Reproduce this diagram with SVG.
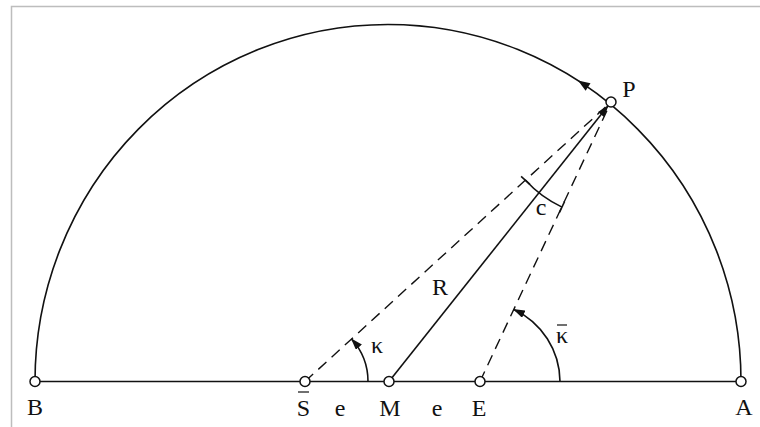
<svg xmlns="http://www.w3.org/2000/svg" width="760" height="427" viewBox="0 0 760 427">
<style>
.pt{fill:#fff;stroke:#111;stroke-width:1.5}
.lbl{font-family:"Liberation Serif","Times New Roman",serif;font-size:24px;fill:#111;text-anchor:middle}
.ln{fill:none;stroke:#111;stroke-width:1.6}
.dash{fill:none;stroke:#111;stroke-width:1.4;stroke-dasharray:11 7}
.bar{stroke:#111;stroke-width:1.2}
</style>
<defs>
<marker id="ah" viewBox="0 0 12 8" refX="11" refY="4" markerWidth="12" markerHeight="8" markerUnits="userSpaceOnUse" orient="auto">
<path d="M0,0 L12,4 L0,8 Z" fill="#111"/>
</marker>
</defs>
<rect width="760" height="427" fill="#fff"/>
<path d="M11.5,427 V6.5 H760" fill="none" stroke="#bdbdbd" stroke-width="1.5"/>
<g id="connectors">
<path id="semicircle" class="ln" d="M35,381.5 A353,357 0 0 1 741,381.5"/>
<polygon points="0,0 -12,-4.5 -12,4.5" fill="#111" transform="translate(578,80.5) rotate(213)"/>
<line id="baseline" class="ln" x1="35" y1="381.5" x2="741" y2="381.5"/>
<line id="S-P" class="dash" x1="305" y1="381.5" x2="611" y2="102"/>
<line id="E-P" class="dash" x1="480" y1="381.5" x2="611" y2="102"/>
<line id="M-P" class="ln" stroke-width="2.2" x1="389" y1="381.5" x2="607.9" y2="106" marker-end="url(#ah)"/>
<path id="kappa-arc" class="ln" d="M368,381.5 A63,63 0 0 0 351.5,339" marker-end="url(#ah)"/>
<path id="kappabar-arc" class="ln" d="M560,381.5 A80,80 0 0 0 513.8,309.5" marker-end="url(#ah)"/>
<path id="c-arc" class="ln" d="M525.5,180.3 A116,116 0 0 0 562,207.1"/>
<line class="ln" x1="521.1" y1="176.3" x2="529.9" y2="184.3"/>
<line class="ln" x1="564.5" y1="201.7" x2="559.5" y2="212.5"/>
</g>
<g id="B"><circle class="pt" cx="35" cy="381.5" r="5"/><text class="lbl" x="35" y="415">B</text></g>
<g id="Sbar"><circle class="pt" cx="305" cy="381.5" r="5"/><line class="bar" x1="298" y1="392" x2="309" y2="392"/><text class="lbl" x="303.5" y="416">S</text></g>
<g id="M"><circle class="pt" cx="389" cy="381.5" r="5"/><text class="lbl" x="390" y="416">M</text></g>
<g id="E"><circle class="pt" cx="480" cy="381.5" r="5"/><text class="lbl" x="479" y="416">E</text></g>
<g id="A"><circle class="pt" cx="741" cy="381.5" r="5"/><text class="lbl" x="744" y="415">A</text></g>
<g id="P"><circle class="pt" cx="611" cy="102" r="5"/><text class="lbl" x="629" y="97">P</text></g>
<g id="labels">
<text class="lbl" x="340" y="416">e</text>
<text class="lbl" x="437" y="416">e</text>
<text class="lbl" x="440" y="295">R</text>
<text class="lbl" x="541" y="215">c</text>
<text class="lbl" x="377" y="353">κ</text>
<text class="lbl" x="562" y="343">κ</text>
<line class="bar" x1="557" y1="325" x2="567" y2="325"/>
</g>
</svg>
